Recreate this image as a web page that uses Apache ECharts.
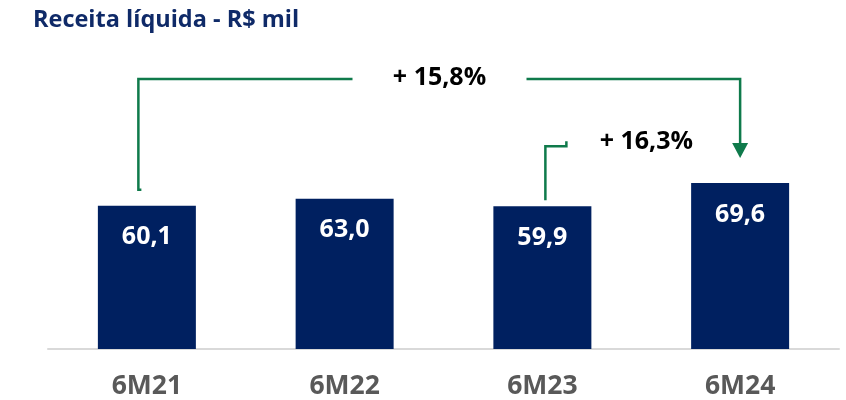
<!DOCTYPE html>
<html>
<head>
<meta charset="utf-8">
<script src="https://cdn.jsdelivr.net/npm/echarts@6/dist/echarts.min.js"></script>
<style>
  html, body { margin: 0; padding: 0; background: #fff; }
  #main { width: 846px; height: 400px; }
</style>
</head>
<body>
<div id="main"></div>
<script>
// dados
const categories = ['6M21', '6M22', '6M23', '6M24'];
const receita = [60.1, 63.0, 59.9, 69.6];
const growthLabels = ['+ 15,8%', '+ 16,3%'];

const fmt = v => v.toFixed(1).replace('.', ',');
const FONT = '"Open Sans", "Noto Sans", sans-serif';
const GREEN = '#0f7a4b';

const myChart = echarts.init(document.getElementById('main'), null, { renderer: 'canvas' });

const option = {
  animation: false,
  title: {
    text: 'Receita líquida - R$ mil',
    left: 28,
    top: 3,
    textStyle: { color: '#0f2a68', fontSize: 23.5, fontWeight: 'bold', fontFamily: FONT }
  },
  grid: { left: 48, right: 7, top: 110.6, bottom: 51 },
  xAxis: {
    type: 'category',
    data: categories,
    axisTick: { show: false },
    axisLine: { lineStyle: { color: '#d9d9d9', width: 2 } },
    axisLabel: { color: '#595959', fontSize: 26.5, fontWeight: 'bold', fontFamily: FONT, margin: 24 }
  },
  yAxis: {
    type: 'value',
    min: 0,
    max: 100,
    show: false,
    splitLine: { show: false }
  },
  series: [
    {
      type: 'bar',
      data: receita,
      barWidth: 98,
      itemStyle: { color: '#002060' },
      label: {
        show: true,
        position: 'insideTop',
        distance: 19,
        color: '#fff',
        fontSize: 25,
        fontWeight: 'bold',
        fontFamily: FONT,
        formatter: p => fmt(p.value)
      }
    }
  ]
};
myChart.setOption(option);

// setas de crescimento, posicionadas a partir das barras
const px = i => myChart.convertToPixel({ seriesIndex: 0 }, [i, receita[i]]);
const a = px(0), c = px(2), d = px(3);
const topY = 79;
const midX = (a[0] + d[0]) / 2 - 4;
const lineStyle = { stroke: GREEN, lineWidth: 2.5, fill: null };
const textStyle = { fill: '#000', fontSize: 25, fontWeight: 'bold', fontFamily: FONT, align: 'center', verticalAlign: 'middle' };
const lx = a[0] - 8.5;

myChart.setOption({
  graphic: [
    { type: 'polyline', shape: { points: [[lx + 3, a[1] - 16], [lx, a[1] - 16], [lx, topY], [midX - 87, topY]] }, style: lineStyle, silent: true },
    { type: 'polyline', shape: { points: [[midX + 87, topY], [d[0], topY], [d[0], d[1] - 38]] }, style: lineStyle, silent: true },
    { type: 'polygon', shape: { points: [[d[0] - 8, d[1] - 40], [d[0] + 8, d[1] - 40], [d[0], d[1] - 25]] }, style: { fill: GREEN }, silent: true },
    { type: 'text', x: midX, y: topY - 1, style: Object.assign({ text: growthLabels[0] }, textStyle), silent: true },
    { type: 'polyline', shape: { points: [[c[0] + 24, c[1] - 65], [c[0] + 24, c[1] - 60], [c[0] + 3, c[1] - 60], [c[0] + 3, c[1] - 6]] }, style: lineStyle, silent: true },
    { type: 'text', x: c[0] + 104, y: c[1] - 64, style: Object.assign({ text: growthLabels[1] }, textStyle), silent: true }
  ]
});
</script>
</body>
</html>
